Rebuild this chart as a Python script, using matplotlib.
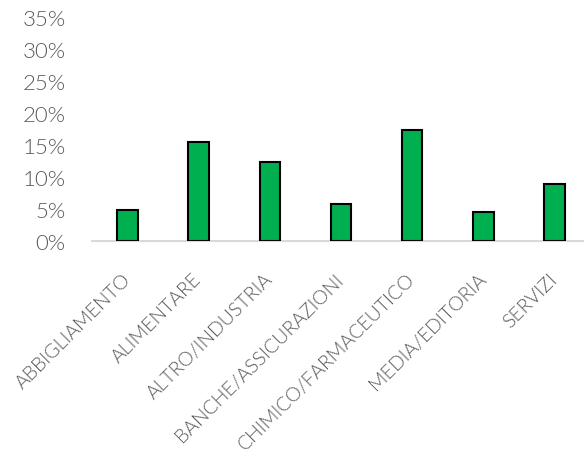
import matplotlib
matplotlib.use('Agg')
import matplotlib.pyplot as plt
from matplotlib.ticker import MultipleLocator, PercentFormatter

# settori e quota percentuale
settori = ["ABBIGLIAMENTO", "ALIMENTARE", "ALTRO/INDUSTRIA", "BANCHE/ASSICURAZIONI",
           "CHIMICO/FARMACEUTICO", "MEDIA/EDITORIA", "SERVIZI"]
quote = [0.048, 0.155, 0.123, 0.058, 0.173, 0.046, 0.089]

plt.rcParams['font.family'] = ['Lato', 'DejaVu Sans']
plt.rcParams['font.weight'] = 300
grigio = '#595959'

fig = plt.figure(figsize=(5.84, 4.6), dpi=100)
ax = fig.add_axes([92 / 584, 218 / 460, 1 - 92 / 584, (242 - 18) / 460])

x = range(len(settori))
ax.bar(x, quote, width=0.29, color='#00B050', edgecolor='black', linewidth=1.5, zorder=3)

ax.set_ylim(0, 0.35)
ax.set_xlim(-0.5, 6.5 - 6 / 71.2)
ax.yaxis.set_major_locator(MultipleLocator(0.05))
ax.yaxis.set_major_formatter(PercentFormatter(1.0, decimals=0))

for s in ['top', 'right', 'left']:
    ax.spines[s].set_visible(False)
ax.spines['bottom'].set_color('#D9D9D9')
ax.spines['bottom'].set_linewidth(1.5)

ax.tick_params(axis='y', length=0, pad=19, labelsize=16, labelcolor=grigio)
ax.tick_params(axis='x', length=0, pad=25, labelsize=14, labelcolor=grigio)

ax.set_xticks(list(x))
ax.set_xticklabels(settori, rotation=45, ha='right', va='center',
                   rotation_mode='anchor')

fig.savefig('out.png', dpi=100)
